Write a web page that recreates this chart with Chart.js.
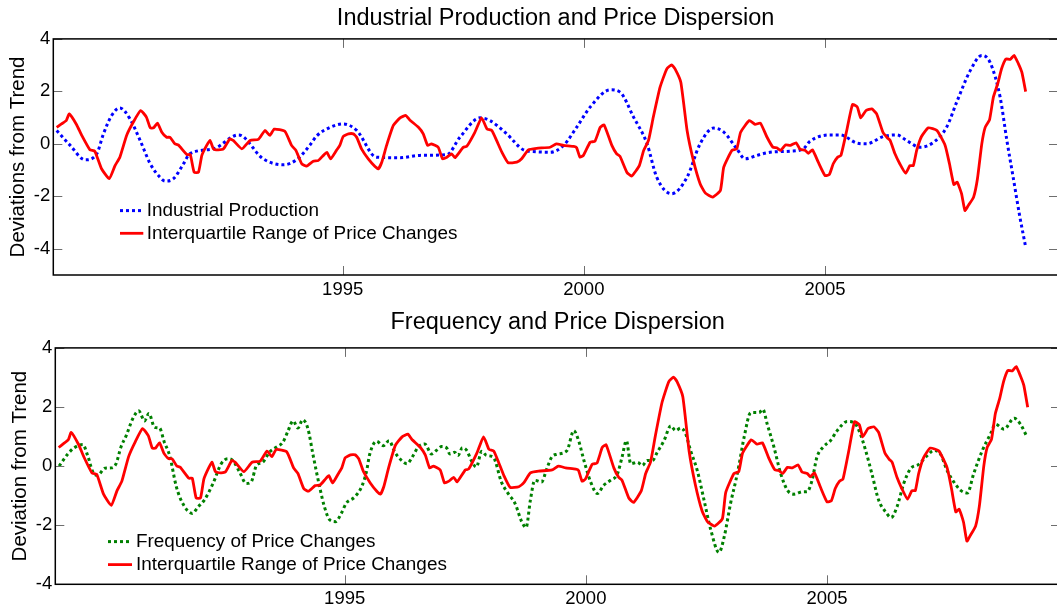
<!DOCTYPE html>
<html>
<head>
<meta charset="utf-8">
<script src="https://cdn.jsdelivr.net/npm/chart.js@4.4.1/dist/chart.umd.min.js"></script>
<style>
  html, body { margin: 0; padding: 0; background: #fff; overflow: hidden; }
  #quadro { position: relative; width: 1057px; height: 608px; overflow: hidden; }
  canvas { position: absolute; }
  #graficoTopo { left: 0; top: 0; }
  #graficoBase { left: 2px; top: 300px; }
</style>
</head>
<body>
<div id="quadro">
  <canvas id="graficoTopo" width="1060" height="305"></canvas>
  <canvas id="graficoBase" width="1060" height="308"></canvas>
</div>
<script>
// Eixos
const anosTicks = [1995, 2000, 2005];
const ticksYTopo = [4, 2, 0, -2, -4];
const ticksYBase = [4, 2, 0, -2, -4];

// Produção industrial (desvio da tendência)
const anosProducao = [1989.07, 1989.35, 1989.66, 1989.90, 1990.04, 1990.21, 1990.38, 1990.59, 1990.80, 1991.01,
  1991.21, 1991.32, 1991.49, 1991.70, 1991.83, 1992.32, 1992.84, 1993.35, 1993.77, 1994.05,
  1994.32, 1994.46, 1994.74, 1995.01, 1995.29, 1995.70, 1996.19, 1996.60, 1997.16, 1997.43,
  1997.85, 1998.05, 1998.40, 1998.75, 1999.00, 1999.30, 1999.58, 1999.85, 2000.13, 2000.55,
  2000.75, 2001.03, 2001.31, 2001.51, 2001.82, 2002.14, 2002.41, 2002.69, 2002.90, 2003.17,
  2003.34, 2003.59, 2003.86, 2004.28, 2004.55, 2004.69, 2005.10, 2005.31, 2005.66, 2005.86,
  2006.21, 2006.49, 2006.69, 2006.97, 2007.25, 2007.52, 2007.73, 2008.01, 2008.25, 2008.42,
  2008.63, 2008.77, 2008.90, 2009.04, 2009.16];
const producaoIndustrial = [0.51, -0.06, -0.61, -0.38, 0.38, 1.08, 1.37, 0.95, 0.13, -0.76,
  -1.27, -1.42, -1.33, -0.76, -0.38, -0.19, 0.34, -0.57, -0.80, -0.60,
  -0.05, 0.30, 0.63, 0.76, 0.51, -0.51, -0.53, -0.44, -0.41, 0.25,
  0.99, 0.89, 0.38, -0.23, -0.30, -0.32, -0.06, 0.63, 1.40, 2.06,
  1.97, 1.02, 0.00, -1.27, -1.90, -1.27, 0.00, 0.60, 0.45, -0.19,
  -0.57, -0.44, -0.32, -0.28, -0.19, 0.10, 0.34, 0.34, 0.03, 0.00,
  0.28, 0.34, 0.13, -0.13, 0.06, 0.63, 1.59, 2.79, 3.37, 3.11,
  1.78, 0.13, -1.27, -2.79, -3.94];

// Intervalo interquartil das mudanças de preço
const anosDispersao = [1989.07, 1989.17, 1989.27, 1989.33, 1989.48, 1989.59, 1989.76, 1989.86, 1990.00, 1990.16,
  1990.28, 1990.38, 1990.52, 1990.66, 1990.81, 1990.93, 1991.01, 1991.08, 1991.16, 1991.25,
  1991.35, 1991.42, 1991.52, 1991.59, 1991.77, 1991.84, 1991.92, 1992.01, 1992.08, 1992.18,
  1992.25, 1992.32, 1992.42, 1992.53, 1992.66, 1992.73, 1992.91, 1993.08, 1993.25, 1993.39,
  1993.49, 1993.58, 1993.80, 1993.94, 1994.03, 1994.15, 1994.25, 1994.39, 1994.49, 1994.60,
  1994.67, 1994.75, 1994.87, 1994.94, 1995.01, 1995.12, 1995.22, 1995.29, 1995.39, 1995.53,
  1995.67, 1995.74, 1995.81, 1995.91, 1996.05, 1996.19, 1996.31, 1996.39, 1996.57, 1996.67,
  1996.76, 1996.84, 1996.98, 1997.07, 1997.16, 1997.26, 1997.33, 1997.50, 1997.57, 1997.74,
  1997.88, 1997.99, 1998.09, 1998.19, 1998.30, 1998.43, 1998.61, 1998.71, 1998.85, 1999.02,
  1999.30, 1999.43, 1999.58, 1999.79, 1999.85, 1999.92, 1999.99, 2000.13, 2000.23, 2000.34,
  2000.42, 2000.58, 2000.68, 2000.75, 2000.89, 2000.99, 2001.15, 2001.24, 2001.34, 2001.44,
  2001.58, 2001.72, 2001.82, 2001.89, 2002.01, 2002.14, 2002.27, 2002.41, 2002.52, 2002.67,
  2002.83, 2002.90, 2003.07, 2003.17, 2003.25, 2003.43, 2003.55, 2003.66, 2003.79, 2003.92,
  2004.00, 2004.08, 2004.18, 2004.28, 2004.40, 2004.48, 2004.59, 2004.65, 2004.74, 2004.86,
  2005.00, 2005.09, 2005.17, 2005.26, 2005.33, 2005.45, 2005.57, 2005.67, 2005.74, 2005.85,
  2005.97, 2006.07, 2006.20, 2006.29, 2006.35, 2006.45, 2006.55, 2006.67, 2006.76, 2006.83,
  2006.90, 2007.00, 2007.14, 2007.32, 2007.49, 2007.58, 2007.67, 2007.74, 2007.83, 2007.90,
  2007.97, 2008.08, 2008.16, 2008.25, 2008.32, 2008.41, 2008.49, 2008.58, 2008.66, 2008.75,
  2008.84, 2008.92, 2009.01, 2009.08, 2009.16];
const intervaloInterquartil = [0.63, 0.76, 0.89, 1.14, 0.74, 0.32, -0.23, -0.28, -0.95, -1.33,
  -0.83, -0.51, 0.32, 0.83, 1.27, 1.02, 0.61, 0.61, 0.79, 0.44,
  0.25, 0.25, 0.00, -0.04, -0.41, -0.41, -1.08, -1.08, -0.44, -0.06,
  0.13, -0.19, -0.23, -0.19, 0.19, 0.13, -0.19, 0.13, 0.17, 0.51,
  0.32, 0.56, 0.48, -0.06, -0.25, -0.76, -0.85, -0.66, -0.64, -0.44,
  -0.32, -0.57, -0.25, -0.06, 0.28, 0.38, 0.38, 0.25, -0.19, -0.57,
  -0.86, -0.95, -0.70, -0.06, 0.70, 0.99, 1.08, 0.91, 0.63, 0.38,
  -0.06, 0.00, -0.13, -0.57, -0.51, -0.38, -0.53, -0.13, -0.10, 0.44,
  0.99, 0.57, 0.51, 0.13, -0.32, -0.72, -0.70, -0.57, -0.23, -0.17,
  -0.13, 0.00, -0.06, -0.10, -0.15, -0.51, -0.44, 0.06, 0.10, 0.63,
  0.72, -0.06, -0.38, -0.48, -1.08, -1.23, -0.83, -0.25, 0.13, 1.02,
  2.16, 2.86, 3.01, 2.86, 2.35, 0.51, -0.63, -1.52, -1.88, -2.03,
  -1.78, -0.89, -0.25, -0.19, 0.44, 0.89, 0.74, 0.79, 0.28, -0.13,
  -0.15, -0.25, -0.04, -0.06, 0.04, -0.20, -0.25, -0.36, -0.23, -0.70,
  -1.21, -1.17, -0.76, -0.51, -0.44, 0.51, 1.50, 1.40, 0.99, 1.27,
  1.33, 1.14, 0.44, 0.23, 0.13, -0.38, -0.76, -1.12, -0.83, -0.83,
  -0.25, 0.28, 0.61, 0.51, -0.06, -0.76, -1.55, -1.46, -1.90, -2.54,
  -2.35, -2.03, -1.33, 0.00, 0.63, 0.91, 1.78, 2.29, 2.86, 3.24,
  3.22, 3.37, 3.05, 2.73, 1.99];

// Frequência das mudanças de preço
const anosFrequencia = [1989.08, 1989.26, 1989.39, 1989.57, 1989.67, 1989.78, 1989.88, 1990.03, 1990.16, 1990.26,
  1990.36, 1990.47, 1990.61, 1990.73, 1990.85, 1990.94, 1991.06, 1991.16, 1991.26, 1991.37,
  1991.51, 1991.64, 1991.84, 1991.96, 1992.09, 1992.27, 1992.44, 1992.58, 1992.68, 1992.82,
  1992.96, 1993.06, 1993.17, 1993.30, 1993.44, 1993.58, 1993.72, 1993.82, 1993.93, 1994.03,
  1994.13, 1994.24, 1994.34, 1994.48, 1994.58, 1994.69, 1994.81, 1994.93, 1995.03, 1995.21,
  1995.35, 1995.45, 1995.52, 1995.66, 1995.80, 1995.92, 1996.04, 1996.18, 1996.29, 1996.42,
  1996.52, 1996.66, 1996.80, 1996.90, 1997.01, 1997.11, 1997.18, 1997.28, 1997.35, 1997.44,
  1997.53, 1997.63, 1997.73, 1997.84, 1997.94, 1998.08, 1998.25, 1998.39, 1998.53, 1998.67,
  1998.76, 1998.85, 1998.94, 1999.08, 1999.19, 1999.29, 1999.40, 1999.61, 1999.75, 1999.85,
  1999.96, 2000.10, 2000.24, 2000.37, 2000.51, 2000.65, 2000.75, 2000.84, 2000.93, 2001.07,
  2001.17, 2001.27, 2001.38, 2001.48, 2001.62, 2001.76, 2001.86, 2001.97, 2002.07, 2002.17,
  2002.31, 2002.45, 2002.59, 2002.76, 2002.87, 2003.00, 2003.11, 2003.18, 2003.28, 2003.42,
  2003.59, 2003.67, 2003.76, 2003.90, 2004.04, 2004.18, 2004.32, 2004.49, 2004.58, 2004.69,
  2004.79, 2004.93, 2005.07, 2005.21, 2005.42, 2005.59, 2005.69, 2005.80, 2005.93, 2006.07,
  2006.21, 2006.33, 2006.45, 2006.59, 2006.73, 2006.90, 2007.08, 2007.21, 2007.35, 2007.49,
  2007.63, 2007.77, 2007.91, 2008.04, 2008.22, 2008.39, 2008.49, 2008.67, 2008.88, 2009.01,
  2009.15];
const frequenciaMudancas = [0.00, 0.41, 0.62, 0.73, 0.36, -0.20, -0.31, -0.07, -0.06, 0.08,
  0.64, 1.03, 1.62, 1.87, 1.53, 1.78, 1.31, 1.29, 0.81, 0.36,
  -0.70, -1.26, -1.60, -1.38, -1.15, -0.59, 0.08, 0.25, 0.19, -0.20,
  -0.59, -0.54, 0.02, 0.13, 0.47, 0.64, 0.81, 1.17, 1.53, 1.29,
  1.57, 1.25, 0.41, -0.70, -1.38, -1.82, -1.88, -1.60, -1.26, -1.04,
  -0.70, -0.20, 0.41, 0.84, 0.69, 0.86, 0.47, 0.19, 0.08, 0.36,
  0.64, 0.75, 0.41, 0.53, 0.66, 0.62, 0.41, 0.47, 0.36, 0.62,
  0.53, 0.17, -0.03, 0.50, 0.36, 0.30, -0.54, -0.93, -1.26, -1.88,
  -2.08, -1.15, -0.48, -0.54, -0.09, 0.30, 0.40, 0.53, 1.20, 0.86,
  0.19, -0.54, -0.93, -0.65, -0.48, -0.28, 0.30, 0.86, 0.08, 0.13,
  0.02, 0.19, 0.19, 0.47, 0.86, 1.36, 1.20, 1.29, 1.09, 0.53,
  -0.15, -1.15, -2.16, -2.92, -2.38, -1.26, -0.48, 0.08, 0.97, 1.81,
  1.81, 1.92, 1.42, 0.64, -0.26, -0.82, -0.95, -0.87, -0.87, -0.48,
  0.30, 0.66, 0.86, 1.20, 1.51, 1.42, 1.09, 0.53, -0.26, -1.15,
  -1.54, -1.74, -1.38, -0.59, -0.09, 0.06, 0.36, 0.53, 0.41, -0.15,
  -0.54, -0.82, -0.91, -0.26, 0.53, 1.09, 1.42, 1.25, 1.62, 1.42,
  0.97];

// Estilo geral
const fonteBase = "'Liberation Sans', Arial, sans-serif";
const cores = { azul: '#0000ff', vermelho: '#ff0000', verde: '#008000', tick: '#6e6e6e' };

function pares(anos, valores) {
  return anos.map((ano, i) => ({ x: ano, y: valores[i] }));
}

// Moldura preta e ticks voltados para dentro (estilo MATLAB)
const pluginMoldura = {
  id: 'moldura',
  afterDatasetsDraw(chart) {
    const { ctx, chartArea: a, scales: { x, y } } = chart;
    const tam = 9;
    ctx.save();
    ctx.strokeStyle = cores.tick;
    ctx.lineWidth = 1;
    ctx.beginPath();
    x.ticks.forEach(t => {
      const px = Math.round(x.getPixelForValue(t.value)) + 0.5;
      ctx.moveTo(px, a.bottom); ctx.lineTo(px, a.bottom - tam);
      ctx.moveTo(px, a.top); ctx.lineTo(px, a.top + tam);
    });
    y.ticks.forEach(t => {
      const py = Math.round(y.getPixelForValue(t.value)) + 0.5;
      ctx.moveTo(a.left, py); ctx.lineTo(a.left + tam, py);
      ctx.moveTo(a.right, py); ctx.lineTo(a.right - tam, py);
    });
    ctx.stroke();
    ctx.strokeStyle = '#000';
    ctx.lineWidth = 1.5;
    ctx.strokeRect(a.left, a.top, a.right - a.left, a.bottom - a.top);
    ctx.restore();
  }
};

// Legenda dentro da área do gráfico
const pluginLegenda = {
  id: 'legendaInterna',
  afterDraw(chart, args, opts) {
    const { ctx, chartArea: a } = chart;
    ctx.save();
    ctx.font = `${opts.tamanhoFonte}px ${fonteBase}`;
    ctx.textBaseline = 'middle';
    ctx.fillStyle = '#000';
    opts.itens.forEach((item, i) => {
      const ds = chart.data.datasets[item];
      const y = a.top + opts.y + i * opts.espaco;
      ctx.strokeStyle = ds.borderColor;
      ctx.lineWidth = ds.borderWidth;
      ctx.setLineDash(ds.borderDash || []);
      ctx.beginPath();
      ctx.moveTo(a.left + opts.x0, y);
      ctx.lineTo(a.left + opts.x1, y);
      ctx.stroke();
      ctx.setLineDash([]);
      ctx.fillText(ds.label, a.left + opts.xTexto, y);
    });
    ctx.restore();
  }
};

function serieTracejada(rotulo, dados, cor) {
  return {
    label: rotulo, data: dados, borderColor: cor, borderWidth: 3,
    borderDash: [3, 3], borderCapStyle: 'butt', cubicInterpolationMode: 'monotone',
    pointRadius: 0, fill: false, order: 1
  };
}

function serieSolida(rotulo, dados, cor) {
  return {
    label: rotulo, data: dados, borderColor: cor, borderWidth: 2.8,
    tension: 0.15, pointRadius: 0, fill: false, order: 0
  };
}

function configPainel(opts) {
  return {
    type: 'line',
    data: { datasets: opts.series },
    options: {
      responsive: false,
      animation: false,
      devicePixelRatio: 1,
      layout: { padding: { left: 0, right: 2, top: 0, bottom: 0 } },
      plugins: {
        legend: { display: false },
        tooltip: { enabled: false },
        title: {
          // fullSize false: centrado sobre a área do gráfico, como no original
          display: true, fullSize: false, text: opts.titulo, color: '#000',
          font: { family: fonteBase, size: 23.5, weight: 'normal' },
          padding: opts.paddingTitulo
        },
        legendaInterna: opts.legenda
      },
      scales: {
        x: {
          type: 'linear', min: 1989.0, max: 2009.83,
          afterBuildTicks: s => { s.ticks = anosTicks.map(v => ({ value: v })); },
          afterFit: s => { s.height = opts.alturaEixoX; },
          grid: { display: false, drawTicks: false },
          border: { display: false },
          ticks: {
            color: '#000', padding: 4, maxRotation: 0, autoSkip: false,
            font: { family: fonteBase, size: 18.5 },
            callback: v => String(v)
          }
        },
        y: {
          min: opts.yMin, max: 4,
          afterBuildTicks: s => { s.ticks = opts.ticksY.map(v => ({ value: v })); },
          afterFit: s => { s.width = 53.3; },
          grid: { display: false, drawTicks: false },
          border: { display: false },
          title: {
            display: true, text: opts.tituloY, color: '#000',
            font: { family: fonteBase, size: 20.5 },
            padding: { top: 6.5, bottom: 0 }
          },
          ticks: {
            color: '#000', padding: 3, autoSkip: false,
            font: { family: fonteBase, size: 18.5 },
            callback: v => String(v)
          }
        }
      }
    },
    plugins: [pluginMoldura, pluginLegenda]
  };
}

document.addEventListener('DOMContentLoaded', () => {
  // Painel de cima: produção industrial x dispersão
  new Chart(document.getElementById('graficoTopo'), configPainel({
    titulo: 'Industrial Production and Price Dispersion',
    tituloY: 'Deviations from Trend',
    paddingTitulo: { top: 4.9, bottom: 5.8 },
    alturaEixoX: 30,
    yMin: -5,
    ticksY: ticksYTopo,
    series: [
      serieTracejada('Industrial Production', pares(anosProducao, producaoIndustrial), cores.azul),
      serieSolida('Interquartile Range of Price Changes', pares(anosDispersao, intervaloInterquartil), cores.vermelho)
    ],
    legenda: { itens: [0, 1], x0: 66.7, x1: 90, xTexto: 93.4, y: 171.7, espaco: 22.7, tamanhoFonte: 18.9 }
  }));

  // Painel de baixo: frequência x dispersão
  new Chart(document.getElementById('graficoBase'), configPainel({
    titulo: 'Frequency and Price Dispersion',
    tituloY: 'Deviation from Trend',
    paddingTitulo: { top: 8.2, bottom: 11.5 },
    alturaEixoX: 23.7,
    yMin: -4,
    ticksY: ticksYBase,
    series: [
      serieTracejada('Frequency of Price Changes', pares(anosFrequencia, frequenciaMudancas), cores.verde),
      serieSolida('Interquartile Range of Price Changes', pares(anosDispersao, intervaloInterquartil), cores.vermelho)
    ],
    legenda: { itens: [0, 1], x0: 52.7, x1: 76.7, xTexto: 80.7, y: 193.7, espaco: 23, tamanhoFonte: 18.9 }
  }));
});
</script>
</body>
</html>
